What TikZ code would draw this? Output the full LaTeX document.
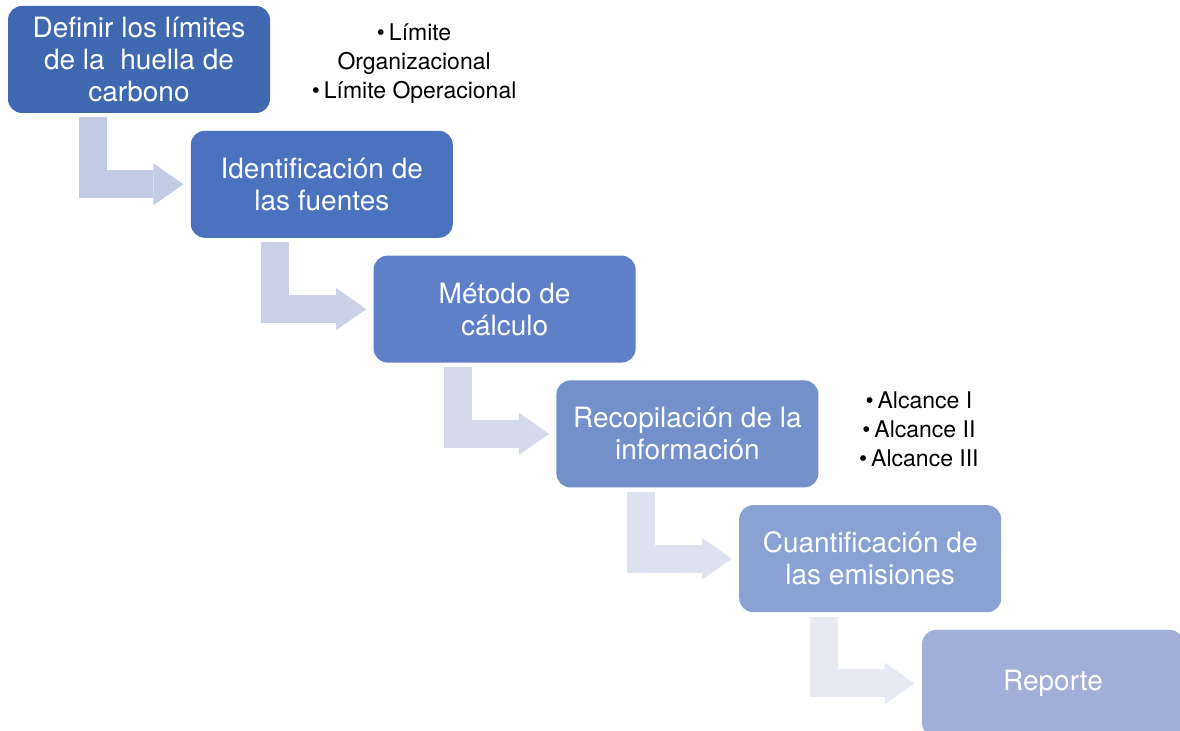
\documentclass[tikz,border=0pt]{standalone}
\usepackage{fontspec}
\setmainfont{TeX Gyre Heros}
\usetikzlibrary{positioning, arrows.meta}

\definecolor{boxa}{HTML}{3F68B0}
\definecolor{boxb}{HTML}{4A72BE}
\definecolor{boxc}{HTML}{5F80C8}
\definecolor{boxd}{HTML}{7390CB}
\definecolor{boxe}{HTML}{8AA2D3}
\definecolor{boxf}{HTML}{A0AED8}
\definecolor{arra}{HTML}{C1CBE4}
\definecolor{arrb}{HTML}{CBD2E8}
\definecolor{arrc}{HTML}{D4DAEC}
\definecolor{arrd}{HTML}{DEE2F0}
\definecolor{arre}{HTML}{E7EAF4}

\tikzset{
	stepbox/.style={rectangle, rounded corners=7pt, minimum width=131pt,
		minimum height=53.5pt, inner sep=0pt, align=center, text=white,
		font=\fontsize{14}{16}\selectfont},
	note/.style={align=center, inner sep=0pt, font=\fontsize{11.5}{14.5}\selectfont},
	stair/.style={line width=14pt, line join=miter,
		-{Triangle[length=15pt, width=21pt, line width=0pt]}}
}

\begin{document}
\begin{tikzpicture}[x=0.5pt, y=-0.5pt]
			\useasboundingbox (0,0) rectangle (1180,731);
			
			% pasos
			\node [stepbox, fill=boxa] (b1) at (139,59.5) {Definir los límites\\de la\ \ huella de\\carbono};
			\node [stepbox, fill=boxb, below right=8.5pt and -40pt of b1] (b2) {Identificación de\\las fuentes};
			\node [stepbox, fill=boxc, below right=8.5pt and -40pt of b2] (b3) {Método de\\cálculo};
			\node [stepbox, fill=boxd, below right=8.5pt and -40pt of b3] (b4) {Recopilación de la\\información};
			\node [stepbox, fill=boxe, below right=8.5pt and -40pt of b4] (b5) {Cuantificación de\\las emisiones};
			\node [stepbox, fill=boxf, below right=8.5pt and -40pt of b5] (b6) {Reporte};
			
			% notas
			\node [note, right=20.5pt of b1, yshift=-2pt] (limites) {\textbullet\hspace{2pt}Límite\\Organizacional\\\textbullet\hspace{2pt}Límite Operacional};
			\node [note, right=20pt of b4, yshift=2.5pt] (alcances) {\textbullet\hspace{2pt}Alcance I\\\textbullet\hspace{2pt}Alcance II\\\textbullet\hspace{2pt}Alcance III};
			
			% flechas
			\draw [stair, arra] ([xshift=42.5pt, yshift=-2pt]b1.south west) |- ([xshift=-3.5pt]b2.west);
			\draw [stair, arrb] ([xshift=42.5pt, yshift=-2pt]b2.south west) |- ([xshift=-3.5pt]b3.west);
			\draw [stair, arrc] ([xshift=42.5pt, yshift=-2pt]b3.south west) |- ([xshift=-3.5pt]b4.west);
			\draw [stair, arrd] ([xshift=42.5pt, yshift=-2pt]b4.south west) |- ([xshift=-3.5pt]b5.west);
			\draw [stair, arre] ([xshift=42.5pt, yshift=-2pt]b5.south west) |- ([xshift=-3.5pt]b6.west);
		\end{tikzpicture}
\end{document}
